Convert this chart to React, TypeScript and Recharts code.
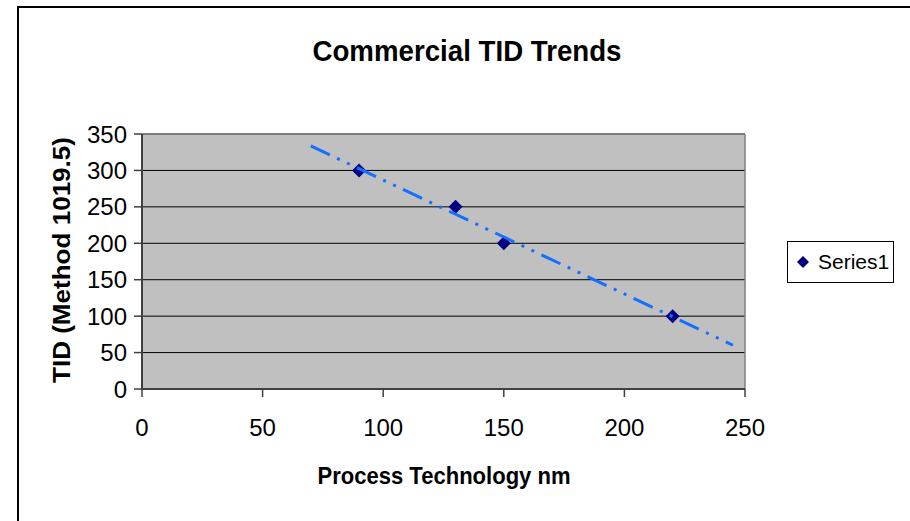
import React from "react";
import {
  ScatterChart,
  Scatter,
  XAxis,
  YAxis,
  CartesianGrid,
  ReferenceLine,
  Legend,
  Customized,
} from "recharts";

// Process node (nm) and total ionizing dose per Method 1019.5
const processNm = [90, 130, 150, 220];
const tidValues = [300, 250, 200, 100];
const xTicks = [0, 50, 100, 150, 200, 250];
const yTicks = [0, 50, 100, 150, 200, 250, 300, 350];
// Trendline extent: 20 backward from first node, 25 forward from last
const trendFrom = 70;
const trendTo = 245;

const points = processNm.map((x, i) => ({ x, y: tidValues[i] }));

// Least-squares fit for the linear trendline
const n = points.length;
const meanX = processNm.reduce((a, b) => a + b, 0) / n;
const meanY = tidValues.reduce((a, b) => a + b, 0) / n;
const sxy = points.reduce((s, p) => s + (p.x - meanX) * (p.y - meanY), 0);
const sxx = points.reduce((s, p) => s + (p.x - meanX) ** 2, 0);
const slope = sxy / sxx;
const intercept = meanY - slope * meanX;
const trendPoints = [trendFrom, trendTo].map((x) => ({ x, y: intercept + slope * x }));

const FONT = "'Liberation Sans', Arial, sans-serif";
const NAVY = "#000080";
const TREND = "#1470FF";

const Diamond = (props: any) => {
  const { cx, cy } = props;
  const r = 7;
  return (
    <polygon
      points={`${cx},${cy - r} ${cx + r},${cy} ${cx},${cy + r} ${cx - r},${cy}`}
      fill={NAVY}
    />
  );
};

const NoMark = () => <g />;

const Titles = () => (
  <g fontFamily={FONT} fontWeight="bold" fill="#000">
    <text x={467} y={61} fontSize={29} textAnchor="middle" textLength={309} lengthAdjust="spacingAndGlyphs">
      Commercial TID Trends
    </text>
    <text x={444} y={484} fontSize={24} textAnchor="middle" textLength={253} lengthAdjust="spacingAndGlyphs">
      Process Technology nm
    </text>
    <text
      x={0}
      y={0}
      fontSize={24}
      textAnchor="middle"
      transform="translate(70,260) rotate(-90)"
      textLength={246}
      lengthAdjust="spacingAndGlyphs"
    >
      TID (Method 1019.5)
    </text>
  </g>
);

const LegendBox = () => (
  <div
    style={{
      width: 105,
      height: 40,
      border: "1px solid #000",
      background: "#fff",
      boxSizing: "content-box",
      display: "flex",
      alignItems: "center",
      fontFamily: FONT,
      fontSize: 21,
      color: "#000",
      whiteSpace: "nowrap",
    }}
  >
    <svg width={26} height={40} style={{ display: "block", flex: "none" }}>
      <polygon points="15,14 21,20 15,26 9,20" fill={NAVY} />
    </svg>
    <span style={{ marginLeft: 4, lineHeight: "40px" }}>Series1</span>
  </div>
);

export default function App() {
  return (
    <div style={{ position: "absolute", left: 0, top: 0, width: 910, height: 521, background: "#fff", overflow: "hidden" }}>
      <div
        style={{
          position: "absolute",
          left: 17,
          top: 6,
          width: 920,
          height: 540,
          borderLeft: "2px solid #000",
          borderTop: "2px solid #000",
        }}
      />
      <div style={{ position: "absolute", left: 0, top: 0 }}>
        <ScatterChart width={910} height={521} margin={{ top: 134, right: 165, bottom: 0, left: 0 }}>
          <CartesianGrid vertical={false} stroke="#000" fill="#C0C0C0" fillOpacity={1} />
          <XAxis
            type="number"
            dataKey="x"
            domain={[0, 250]}
            ticks={xTicks}
            height={132}
            tickSize={8}
            tickMargin={22}
            interval={0}
            axisLine={{ stroke: "#404040", strokeWidth: 2 }}
            tickLine={{ stroke: "#404040", strokeWidth: 1.5 }}
            tick={{ fill: "#000", fontSize: 24, fontFamily: FONT }}
            allowDataOverflow
          />
          <YAxis
            type="number"
            dataKey="y"
            domain={[0, 350]}
            ticks={yTicks}
            width={142}
            tickSize={8}
            tickMargin={7}
            interval={0}
            axisLine={{ stroke: "#404040", strokeWidth: 2 }}
            tickLine={{ stroke: "#404040", strokeWidth: 1.5 }}
            tick={{ fill: "#000", fontSize: 24, fontFamily: FONT }}
            allowDataOverflow
          />
          <ReferenceLine y={350} stroke="#808080" strokeWidth={1.5} />
          <ReferenceLine x={250} stroke="#808080" strokeWidth={1.5} />
          <Scatter name="Series1" data={points} shape={Diamond} fill={NAVY} isAnimationActive={false} />
          <Scatter
            name="Trend"
            data={trendPoints}
            shape={NoMark}
            legendType="none"
            line={{ stroke: TREND, strokeWidth: 3, strokeDasharray: "21 8 3 8 3 8" }}
            isAnimationActive={false}
          />
          <Legend
            layout="horizontal"
            align="center"
            verticalAlign="middle"
            content={() => <LegendBox />}
            wrapperStyle={{ position: "absolute", left: 787, top: 241, width: 107, height: 42 }}
          />
          <Customized component={Titles} />
        </ScatterChart>
      </div>
    </div>
  );
}
